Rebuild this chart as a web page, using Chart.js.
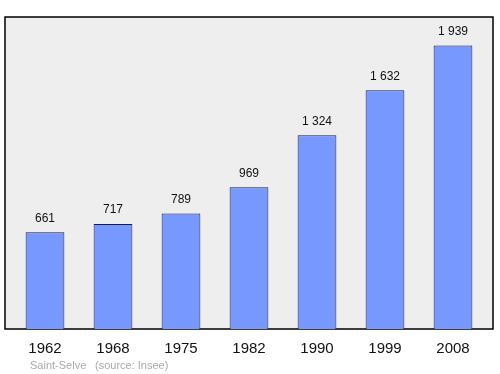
<!DOCTYPE html>
<html>
<head>
<meta charset="utf-8">
<script src="https://cdn.jsdelivr.net/npm/chart.js@4"></script>
<style>
  html, body { margin: 0; padding: 0; background: #fff; }
  #wrap { width: 500px; height: 374px; }
</style>
</head>
<body>
<div id="wrap"><canvas id="pop_chart" width="500" height="374"></canvas></div>
<script>
var years = ["1962", "1968", "1975", "1982", "1990", "1999", "2008"];
var population = [661, 717, 789, 969, 1324, 1632, 1939];
var placeName = "Saint-Selve";
var sourceText = "(source: Insee)";

function fmt(n) {
    return String(n).replace(/\B(?=(\d{3})+(?!\d))/g, " ");
}

// grey box with black border, a bit wider than the bar area
var frame = {
    id: "frame",
    beforeDatasetsDraw: function(chart) {
        var a = chart.chartArea, ctx = chart.ctx;
        ctx.save();
        ctx.fillStyle = "#eeeeee";
        ctx.strokeStyle = "#000";
        ctx.lineWidth = 1.5;
        ctx.fillRect(a.left - 6, a.top, a.right - a.left + 12, a.bottom - a.top);
        ctx.strokeRect(a.left - 6, a.top, a.right - a.left + 12, a.bottom - a.top);
        ctx.restore();
    },
    afterDatasetsDraw: function(chart) {
        var ctx = chart.ctx;
        var meta = chart.getDatasetMeta(0);
        ctx.save();
        ctx.font = "12px 'Liberation Sans', Arial, sans-serif";
        ctx.fillStyle = "#111";
        ctx.textAlign = "center";
        ctx.textBaseline = "bottom";
        meta.data.forEach(function(bar, i) {
            ctx.fillText(fmt(population[i]), bar.x, bar.y - 8);
        });
        // footer
        ctx.font = "11px 'Liberation Sans', Arial, sans-serif";
        ctx.fillStyle = "#aaaaaa";
        ctx.textAlign = "left";
        ctx.textBaseline = "alphabetic";
        ctx.fillText(placeName, 30, 369);
        ctx.fillText(sourceText, 95, 369);
        ctx.restore();
    }
};

new Chart(document.getElementById("pop_chart"), {
    type: "bar",
    data: {
        labels: years,
        datasets: [{
            data: population,
            backgroundColor: "#7799ff",
            borderColor: "#1a1a4a",
            borderWidth: 1,
            barPercentage: 0.57,
            categoryPercentage: 1.0
        }]
    },
    options: {
        responsive: false,
        animation: false,
        layout: { padding: { left: 11, right: 13, top: 17, bottom: 13 } },
        plugins: { legend: { display: false }, tooltip: { enabled: false } },
        scales: {
            x: {
                grid: { display: false },
                border: { display: false },
                ticks: {
                    color: "#111",
                    font: { family: "'Liberation Sans', Arial, sans-serif", size: 15 },
                    padding: 3
                }
            },
            y: {
                display: false,
                min: 0,
                max: 2133
            }
        }
    },
    plugins: [frame]
});
</script>
</body>
</html>
